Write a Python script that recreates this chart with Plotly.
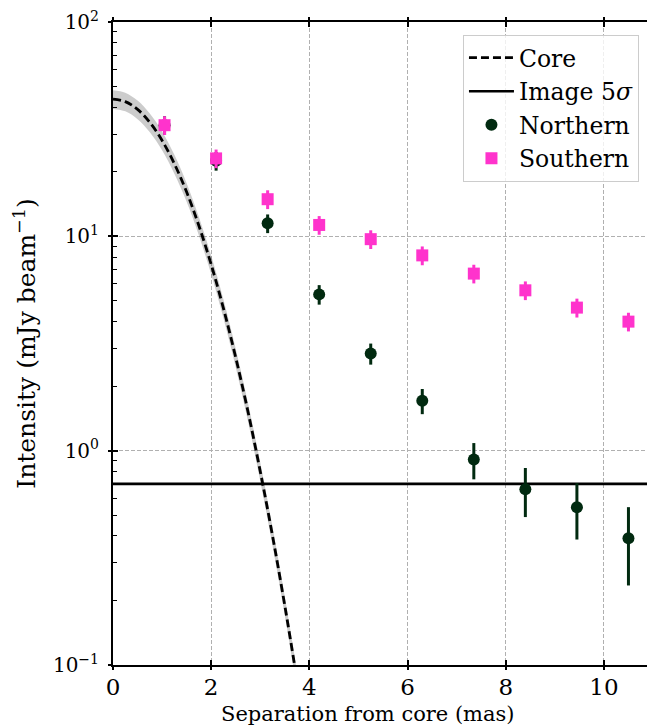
import plotly.graph_objects as go

# ---- data ----
sep = [1.05, 2.1, 3.15, 4.2, 5.25, 6.3, 7.35, 8.4, 9.45, 10.5]
north = [33.0, 22.5, 11.5, 5.36, 2.84, 1.71, 0.91, 0.66, 0.545, 0.39]
north_err = [3.3, 2.25, 1.15, 0.56, 0.32, 0.23, 0.175, 0.17, 0.16, 0.155]
south = [33.0, 23.1, 14.9, 11.3, 9.7, 8.15, 6.7, 5.6, 4.65, 4.0]
south_err = [3.3, 2.3, 1.5, 1.13, 0.97, 0.82, 0.67, 0.56, 0.47, 0.40]

core_x = [0, 0.25, 0.5, 0.75, 1.0, 1.25, 1.5, 1.75, 2.0, 2.25, 2.5, 2.75, 3.0, 3.25, 3.5, 3.75, 4.0]
core_y = [43.7, 42.5, 39.1, 34.0, 28.0, 21.8, 16.1, 11.2, 7.39, 4.61, 2.72, 1.52, 0.80, 0.40, 0.189, 0.0843, 0.0356]
core_hi = [48.1, 46.8, 43.0, 37.4, 30.8, 24.0, 17.7, 12.3, 8.13, 5.07, 2.99, 1.67, 0.88, 0.44, 0.208, 0.0927, 0.0392]
core_lo = [39.3, 38.3, 35.2, 30.6, 25.2, 19.6, 14.5, 10.1, 6.65, 4.15, 2.45, 1.37, 0.72, 0.36, 0.170, 0.0759, 0.0320]

image_5sigma = 0.7
x_range = [0, 11]

ytick_vals = [0.1, 1, 10, 100]
ytick_text = ["10<sup>−1</sup>", "10<sup>0</sup>", "10<sup>1</sup>", "10<sup>2</sup>"]
yminor_vals = [0.2, 0.3, 0.4, 0.5, 0.6, 0.7, 0.8, 0.9,
               2, 3, 4, 5, 6, 7, 8, 9,
               20, 30, 40, 50, 60, 70, 80, 90]
xtick_vals = [0, 2, 4, 6, 8, 10]

# ---- styling ----
FONT = "DejaVu Serif"
NCOL = "#012a10"
SCOL = "#ff33cc"
OFF = 8  # default page body margin in the written html

fig = go.Figure()

fig.add_trace(go.Scatter(x=core_x, y=core_lo, mode="lines", line=dict(width=0, shape="spline"),
                         showlegend=False, hoverinfo="skip"))
fig.add_trace(go.Scatter(x=core_x, y=core_hi, mode="lines", line=dict(width=0, shape="spline"),
                         fill="tonexty", fillcolor="rgba(0,0,0,0.2)", showlegend=False, hoverinfo="skip"))
fig.add_trace(go.Scatter(x=core_x, y=core_y, mode="lines", name="Core", legendgroup="a",
                         line=dict(color="black", width=2.8, dash="8px,4px", shape="spline")))
fig.add_trace(go.Scatter(x=x_range, y=[image_5sigma, image_5sigma], mode="lines", name="Image 5<i>σ</i>",
                         legendgroup="b", line=dict(color="black", width=2.6)))
fig.add_trace(go.Scatter(x=sep, y=north, mode="markers", name="Northern", legendgroup="c",
                         marker=dict(symbol="circle", size=12, color=NCOL),
                         error_y=dict(type="data", array=north_err, color=NCOL, thickness=3, width=0)))
fig.add_trace(go.Scatter(x=sep, y=south, mode="markers", name="Southern", legendgroup="d",
                         marker=dict(symbol="square", size=12, color=SCOL),
                         error_y=dict(type="data", array=south_err, color=SCOL, thickness=3, width=0)))
# dummy trace for overlay axes (outer tick halves)
fig.add_trace(go.Scatter(x=[5], y=[1], xaxis="x2", yaxis="y2", mode="markers",
                         marker=dict(opacity=0), showlegend=False, hoverinfo="skip"))

grid = dict(showgrid=True, gridcolor="#b0b0b0", gridwidth=1, griddash="4px,2px")

fig.update_layout(
    width=655 - OFF, height=727 - OFF,
    margin=dict(l=113 - OFF, r=2, t=22 - OFF, b=62, autoexpand=False),
    paper_bgcolor="white", plot_bgcolor="white",
    font=dict(family=FONT, size=21, color="black"),
    showlegend=True,
    legend=dict(x=0.974, y=0.98, xanchor="right", yanchor="top", traceorder="normal",
                bgcolor="rgba(255,255,255,0.8)", bordercolor="#cccccc", borderwidth=1,
                font=dict(family=FONT, size=23.5), tracegroupgap=8, itemwidth=45),
    xaxis=dict(range=x_range, tickvals=xtick_vals, ticks="inside", ticklen=5, tickwidth=1.8,
               tickcolor="black", showline=True, linecolor="black", linewidth=2, mirror="allticks",
               zeroline=False, automargin=False, tickfont=dict(size=23),
               ticklabeloverflow="allow", **grid),
    yaxis=dict(type="log", range=[-1, 2], tickvals=ytick_vals, ticktext=ytick_text,
               ticks="inside", ticklen=5, tickwidth=1.8, tickcolor="black",
               showline=True, linecolor="black", linewidth=2, mirror="allticks",
               zeroline=False, automargin=False, ticklabeloverflow="allow", ticklabelstandoff=8,
               title=dict(text="Intensity (mJy beam<sup>−1</sup>)", standoff=10),
               minor=dict(tickvals=yminor_vals, ticks="inside", ticklen=4, tickwidth=1.2,
                          tickcolor="black", showgrid=False),
               tickfont=dict(size=20), **grid),
    xaxis2=dict(overlaying="x", matches="x", anchor="y", range=x_range, tickvals=xtick_vals,
                ticks="outside", ticklen=4, tickwidth=1.8, tickcolor="black", mirror="allticks",
                showline=False, showgrid=False, showticklabels=False, zeroline=False, automargin=False),
    yaxis2=dict(overlaying="y", matches="y", anchor="x", type="log", range=[-1, 2], tickvals=ytick_vals,
                ticks="outside", ticklen=4, tickwidth=1.8, tickcolor="black", mirror="allticks",
                showline=False, showgrid=False, showticklabels=False, zeroline=False, automargin=False),
    annotations=[dict(text="Separation from core (mas)", xref="paper", yref="paper",
                      x=0.472, y=0, xanchor="center", yanchor="top", yshift=-35,
                      showarrow=False, font=dict(family=FONT, size=21))],
)

fig.write_html("out.html")
